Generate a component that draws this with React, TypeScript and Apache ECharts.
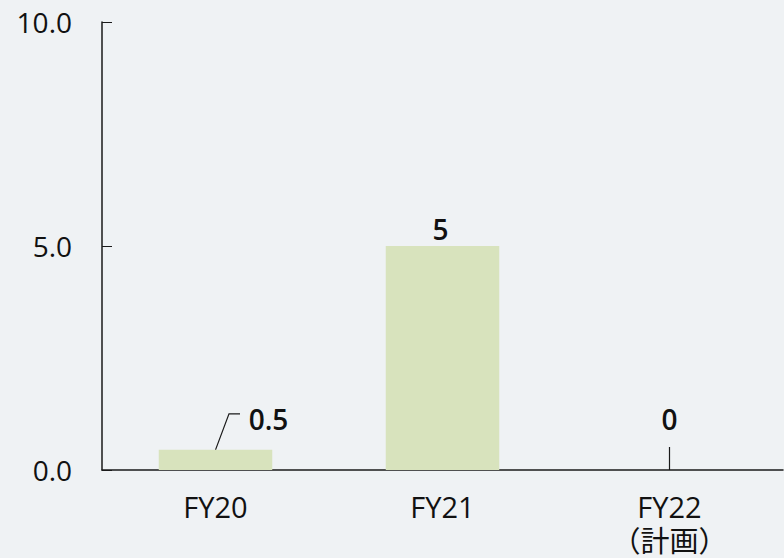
import React, { useEffect, useRef } from "react";
import * as echarts from "echarts";

const categories = ["FY20", "FY21", "FY22\n（計画）"];
const values = [0.45, 5, 0];
const valueLabels = ["0.5", "5", "0"];
const yTicks = [0, 5, 10];

const FONT = "'Open Sans', 'Noto Sans CJK JP', sans-serif";

export default function App() {
  const ref = useRef<HTMLDivElement>(null);
  useEffect(() => {
    if (!ref.current) return;
    const chart = echarts.init(ref.current, null, { renderer: "svg" });
    const labelOffsets: number[][] = [
      [53, -12],
      [-2, 2],
      [0, -32],
    ];
    chart.setOption({
      animation: false,
      backgroundColor: "#eff2f4",
      textStyle: { fontFamily: FONT },
      grid: { left: 102, right: 1, top: 22, bottom: 88 },
      xAxis: {
        type: "category",
        data: categories,
        axisLine: { lineStyle: { color: "#1a1a1a", width: 1.5 } },
        axisTick: { inside: true, length: 11, lineStyle: { color: "#555" } },
        axisLabel: {
          color: "#111",
          margin: 20,
          fontFamily: FONT,
          formatter: (v: string) => {
            const parts = v.split("\n");
            return parts.length > 1
              ? `{a|${parts[0]}}\n{b|${parts[1]}}`
              : `{a|${parts[0]}}`;
          },
          rich: {
            a: { fontSize: 29, lineHeight: 32, color: "#111", fontFamily: FONT },
            b: {
              fontSize: 29,
              lineHeight: 33,
              color: "#111",
              fontFamily: "'Noto Sans CJK JP', sans-serif",
            },
          },
        },
      },
      yAxis: {
        type: "value",
        min: yTicks[0],
        max: yTicks[yTicks.length - 1],
        interval: yTicks[1] - yTicks[0],
        splitLine: { show: false },
        axisLine: { show: true, lineStyle: { color: "#1a1a1a", width: 1.5 } },
        axisTick: { show: true, inside: true, length: 10, lineStyle: { color: "#1a1a1a" } },
        axisLabel: {
          color: "#111",
          fontSize: 28,
          margin: 30,
          fontFamily: FONT,
          formatter: (v: number) => v.toFixed(1),
        },
      },
      series: [
        {
          type: "bar",
          barWidth: "50%",
          itemStyle: { color: "#d8e3bd" },
          data: values.map((v, i) => ({
            value: v,
            label: { offset: labelOffsets[i] },
          })),
          label: {
            show: true,
            position: "top",
            distance: 5,
            color: "#111",
            fontSize: 28,
            fontWeight: 600,
            fontFamily: FONT,
            formatter: (p: any) => valueLabels[p.dataIndex],
          },
        },
      ],
    });
    const p0 = chart.convertToPixel({ seriesIndex: 0 }, [0, values[0]]) as number[];
    const p2 = chart.convertToPixel({ seriesIndex: 0 }, [2, values[2]]) as number[];
    chart.setOption({
      graphic: [
        {
          type: "polyline",
          shape: {
            points: [
              [p0[0], p0[1]],
              [p0[0] + 13.5, p0[1] - 36],
              [p0[0] + 24.5, p0[1] - 36],
            ],
          },
          style: { stroke: "#1a1a1a", lineWidth: 1.2, fill: "none" },
        },
        {
          type: "line",
          shape: { x1: p2[0], y1: p2[1], x2: p2[0], y2: p2[1] - 23 },
          style: { stroke: "#1a1a1a", lineWidth: 1.2 },
        },
      ],
    });
    return () => chart.dispose();
  }, []);
  return (
    <div
      ref={ref}
      style={{ position: "fixed", left: 0, top: 0, width: 784, height: 558 }}
    />
  );
}
